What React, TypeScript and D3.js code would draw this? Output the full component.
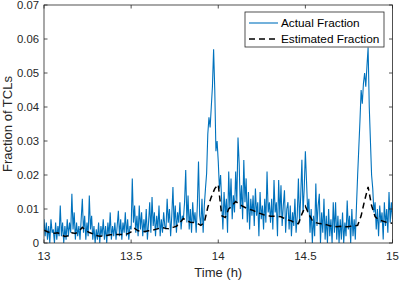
import * as d3 from "d3";

const WIDTH = 399;
const HEIGHT = 281;
const margin = { left: 44, right: 6.5, top: 5, bottom: 38 };

const xTicks = [13, 13.5, 14, 14.5, 15];
const yTicks = [0, 0.01, 0.02, 0.03, 0.04, 0.05, 0.06, 0.07];
const seriesNames = ["Actual Fraction", "Estimated Fraction"];

// actual fraction, one sample every 1/150 h starting at 13 h
const actualStart = 13;
const actualStep = 1 / 150;
const actualValues = [
  0.007, 0.002, 0.006, 0.001, 0.005, 0, 0.007, 0.003, 0.004, 0, 0.006, 0.001, 0.005, 0.002, 0.011,
  0.002, 0.006, 0, 0.005, 0.001, 0.007, 0.002, 0.006, 0.003, 0.0145, 0.004, 0.009, 0.001, 0.006, 0.002,
  0.005, 0.001, 0.007, 0.013, 0.003, 0.008, 0.001, 0.006, 0.002, 0.014, 0.004, 0.008, 0.001, 0.005, 0,
  0.004, 0.001, 0.006, 0, 0.005, 0.002, 0.007, 0.001, 0.005, 0, 0.006, 0.002, 0.009, 0.001, 0.005,
  0.002, 0.006, 0.001, 0.005, 0.0095, 0.002, 0.007, 0.001, 0.006, 0.003, 0.009, 0.002, 0.007, 0.001, 0.005,
  0.004, 0.019, 0.006, 0.011, 0.003, 0.008, 0.002, 0.011, 0.004, 0.009, 0.002, 0.007, 0.003, 0.01, 0.001,
  0.006, 0.012, 0.003, 0.0135, 0.005, 0.009, 0.002, 0.008, 0.004, 0.011, 0.002, 0.007, 0.003, 0.009, 0.005,
  0.004, 0.013, 0.006, 0.01, 0.002, 0.008, 0.0165, 0.005, 0.011, 0.003, 0.009, 0.006, 0.012, 0.004, 0.008,
  0.007, 0.012, 0.0215, 0.006, 0.014, 0.004, 0.01, 0.003, 0.012, 0.006, 0.009, 0.003, 0.011, 0.024, 0.008,
  0.005, 0.013, 0.003, 0.011, 0.016, 0.0205, 0.032, 0.037, 0.034, 0.04, 0.046, 0.057, 0.045, 0.027, 0.03,
  0.024, 0.016, 0.02, 0.012, 0.004, 0.015, 0.008, 0.013, 0.003, 0.021, 0.01, 0.019, 0.007, 0.014, 0.009,
  0.021, 0.012, 0.031, 0.0235, 0.01, 0.017, 0.007, 0.0244, 0.012, 0.019, 0.006, 0.015, 0.004, 0.013, 0.008,
  0.014, 0.005, 0.016, 0.008, 0.012, 0.002, 0.015, 0.007, 0.011, 0.004, 0.013, 0.006, 0.021, 0.009, 0.012,
  0.006, 0.013, 0.004, 0.0185, 0.009, 0.012, 0.002, 0.0185, 0.008, 0.017, 0.005, 0.011, 0.0155, 0.003, 0.01,
  0.012, 0.004, 0.011, 0.002, 0.009, 0.005, 0.013, 0.003, 0.008, 0.019, 0.006, 0.014, 0.0245, 0.009, 0.016,
  0.027, 0.018, 0.009, 0.013, 0.003, 0.01, 0, 0.008, 0.002, 0.0175, 0.005, 0.011, 0.0145, 0, 0.009,
  0.003, 0.013, 0.001, 0.008, 0, 0.01, 0.002, 0.007, 0, 0.012, 0.003, 0.012, 0.001, 0.008, 0,
  0.007, 0.001, 0.009, 0, 0.006, 0.002, 0.0125, 0.004, 0.008, 0, 0.01, 0.002, 0.007, 0.001, 0.011,
  0.02, 0.028, 0.036, 0.045, 0.041, 0.047, 0.05, 0.046, 0.052, 0.0575, 0.04, 0.03, 0.02, 0.016, 0.009,
  0.012, 0.004, 0.01, 0.002, 0.011, 0.006, 0.009, 0.001, 0.012, 0.005, 0.01, 0.003, 0.015, 0.006, 0.012,
  0.007,
];

// estimated fraction, one sample every 0.02 h starting at 13 h
const estimatedStart = 13;
const estimatedStep = 0.02;
const estimatedValues = [
  0.0038, 0.0033, 0.003, 0.0029, 0.003, 0.0024, 0.0019, 0.0021, 0.003, 0.0028,
  0.0034, 0.0046, 0.0036, 0.0031, 0.0027, 0.0022, 0.002, 0.0021, 0.0022, 0.0024,
  0.0025, 0.0025, 0.0025, 0.0025, 0.0027, 0.0033, 0.0043, 0.0036, 0.0034, 0.0034,
  0.0036, 0.0037, 0.004, 0.0043, 0.0045, 0.0043, 0.0042, 0.0046, 0.0049, 0.006,
  0.0072, 0.0066, 0.0061, 0.006, 0.0058, 0.0052, 0.006, 0.0105, 0.0135, 0.016,
  0.0172, 0.008, 0.0075, 0.01, 0.011, 0.0122, 0.0115, 0.0108, 0.0103, 0.0099,
  0.0096, 0.009, 0.0087, 0.0083, 0.0081, 0.0079, 0.0079, 0.0078, 0.0077, 0.0072,
  0.0068, 0.0065, 0.0058, 0.0057, 0.0085, 0.0108, 0.0085, 0.0066, 0.006, 0.0057,
  0.0056, 0.0054, 0.0051, 0.0049, 0.0048, 0.0049, 0.0048, 0.0048, 0.0049, 0.005,
  0.0052, 0.008, 0.0125, 0.0165, 0.011, 0.0078, 0.0068, 0.0065, 0.0062, 0.006,
  0.0058,
];

const AXIS_COLOR = "#262626";
const BLUE = "#0072BD";
const FONT = "'Liberation Sans', Arial, Helvetica, sans-serif";

export default function App() {
  const x = d3
    .scaleLinear()
    .domain([13, 15])
    .range([margin.left, WIDTH - margin.right]);
  const y = d3
    .scaleLinear()
    .domain([0, 0.07])
    .range([HEIGHT - margin.bottom, margin.top]);

  const actual = actualValues.map((v, i) => [actualStart + i * actualStep, v]);
  const estimated = estimatedValues.map((v, i) => [
    estimatedStart + i * estimatedStep,
    v,
  ]);

  const line = d3
    .line<number[]>()
    .x((d) => x(d[0]))
    .y((d) => y(d[1]));

  const [x0, x1] = x.range();
  const [y0, y1] = y.range();
  const tickLen = 3.5;

  const lx = 245;
  const ly = 12;

  return (
    <svg
      width={WIDTH}
      height={HEIGHT}
      style={{ position: "absolute", left: 0, top: 0, background: "#fff" }}
      fontFamily={FONT}
    >
      <defs>
        <clipPath id="plot">
          <rect x={x0} y={y1} width={x1 - x0} height={y0 - y1} />
        </clipPath>
      </defs>
      <rect x={x0} y={y1} width={x1 - x0} height={y0 - y1} fill="#fff" />
      <g clipPath="url(#plot)">
        <path d={line(actual) || ""} fill="none" stroke={BLUE} strokeWidth={1.1} />
        <path
          d={line(estimated) || ""}
          fill="none"
          stroke="#000"
          strokeWidth={1.5}
          strokeDasharray="6,4"
        />
      </g>

      {/* box and ticks */}
      <rect
        x={x0}
        y={y1}
        width={x1 - x0}
        height={y0 - y1}
        fill="none"
        stroke={AXIS_COLOR}
        strokeWidth={0.8}
      />
      {xTicks.map((t) => (
        <g key={"x" + t}>
          <line x1={x(t)} x2={x(t)} y1={y0} y2={y0 - tickLen} stroke={AXIS_COLOR} strokeWidth={0.8} />
          <line x1={x(t)} x2={x(t)} y1={y1} y2={y1 + tickLen} stroke={AXIS_COLOR} strokeWidth={0.8} />
          <text
            x={x(t)}
            y={y0 + 17}
            textAnchor="middle"
            fontSize={11.5}
            fill={AXIS_COLOR}
          >
            {String(t)}
          </text>
        </g>
      ))}
      {yTicks.map((t) => (
        <g key={"y" + t}>
          <line x1={x0} x2={x0 + tickLen} y1={y(t)} y2={y(t)} stroke={AXIS_COLOR} strokeWidth={0.8} />
          <line x1={x1} x2={x1 - tickLen} y1={y(t)} y2={y(t)} stroke={AXIS_COLOR} strokeWidth={0.8} />
          <text
            x={x0 - 5}
            y={y(t) + 4.3}
            textAnchor="end"
            fontSize={11.3}
            fill={AXIS_COLOR}
          >
            {t === 0 ? "0" : t.toFixed(2)}
          </text>
        </g>
      ))}

      <text
        x={(x0 + x1) / 2}
        y={277}
        textAnchor="middle"
        fontSize={13}
        fill={AXIS_COLOR}
      >
        Time (h)
      </text>
      <text
        transform={`translate(12,${(y0 + y1) / 2}) rotate(-90)`}
        textAnchor="middle"
        fontSize={13}
        fill={AXIS_COLOR}
      >
        Fraction of TCLs
      </text>

      {/* legend */}
      <rect
        x={lx}
        y={ly}
        width={139}
        height={35}
        fill="#fff"
        stroke={AXIS_COLOR}
        strokeWidth={0.8}
      />
      <line x1={lx + 4} x2={lx + 33} y1={ly + 11} y2={ly + 11} stroke={BLUE} strokeWidth={1.1} />
      <line
        x1={lx + 4}
        x2={lx + 33}
        y1={ly + 27}
        y2={ly + 27}
        stroke="#000"
        strokeWidth={1.5}
        strokeDasharray="6,4"
      />
      {seriesNames.map((name, i) => (
        <text
          key={name}
          x={lx + 36}
          y={ly + 15 + i * 16}
          fontSize={11.8}
          fill="#000"
        >
          {name}
        </text>
      ))}
    </svg>
  );
}
